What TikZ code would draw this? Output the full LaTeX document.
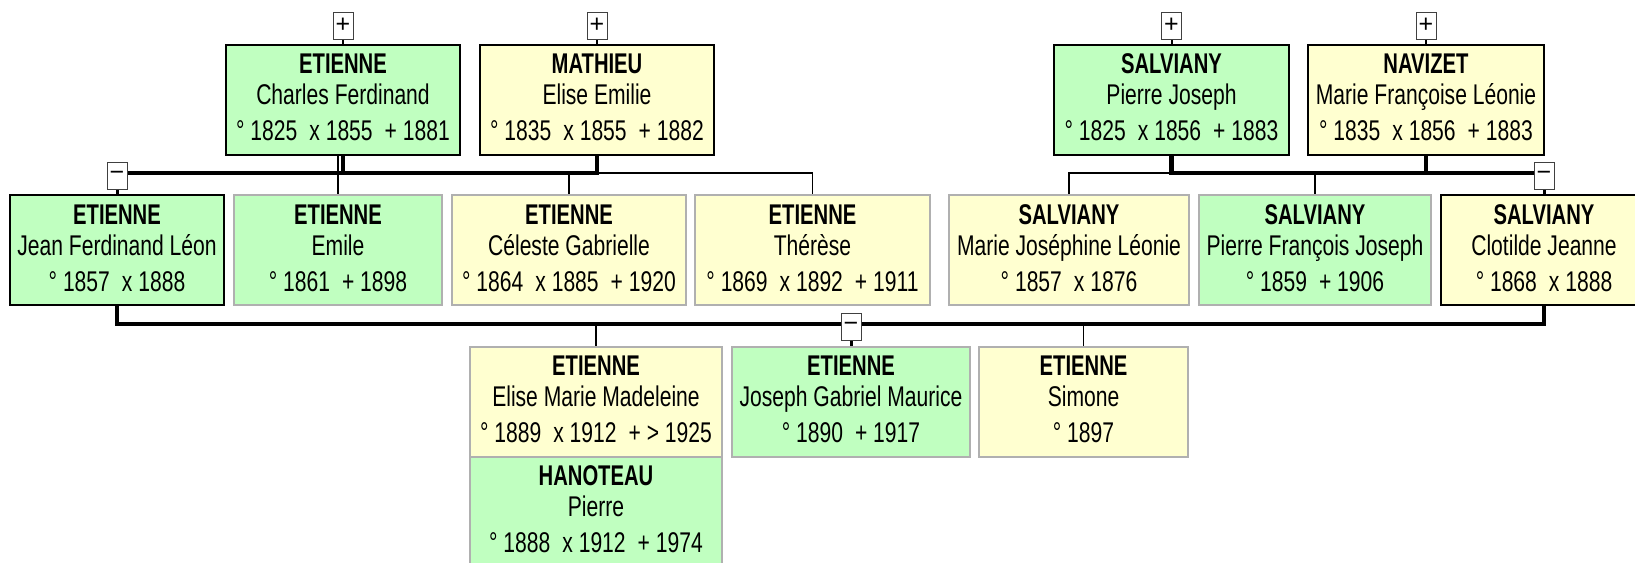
\documentclass[tikz,border=0pt]{standalone}
\usepackage{fontspec}
\setmainfont{Liberation Sans}[FakeStretch=0.74]
\newfontfamily\snfont{Liberation Sans}[FakeStretch=0.71]
\newfontfamily\pmfont{Liberation Sans}
\definecolor{pgreen}{RGB}{192,255,192}
\definecolor{pyellow}{RGB}{255,255,208}
\definecolor{pgray}{RGB}{176,176,176}
\newcommand{\gp}{\hspace{12pt}}
\newcommand{\person}[3]{\rule{0pt}{29pt}{\snfont\bfseries #1}\\#2\\[5pt]#3\rule[-14pt]{0pt}{14pt}}
\pgfdeclarelayer{bg}
\pgfsetlayers{bg,main}
\tikzset{
  person/.style={draw, line width=2pt, inner xsep=0pt, inner ysep=0pt, align=center,
    font=\fontsize{28.5}{31}\selectfont},
  gbox/.style={person, fill=pgreen},
  ybox/.style={person, fill=pyellow},
  grayb/.style={draw=pgray},
  blackb/.style={draw=black},
  pm/.style={draw=black!75, line width=1pt, fill=white, minimum width=20pt,
    minimum height=27pt, inner sep=0pt, font=\pmfont\fontsize{25}{25}\selectfont},
  thickln/.style={line width=4.5pt},
  thinln/.style={line width=1.6pt},
  stub/.style={line width=2pt}
}
\begin{document}
\begin{tikzpicture}[x=1pt,y=-1pt]
\useasboundingbox (0,0) rectangle (1635,562);
\clip (0,0) rectangle (1635,562);
% generation 1
\node[gbox, blackb, minimum width=234pt] (charles) at (343,99.5)
  {\person{ETIENNE}{Charles Ferdinand}{° 1825\gp x 1855\gp + 1881}};
\node[ybox, blackb, minimum width=234pt] (mathieu) at (597,99.5)
  {\person{MATHIEU}{Elise Emilie}{° 1835\gp x 1855\gp + 1882}};
\node[gbox, blackb, minimum width=235pt] (salv) at (1171.5,99.5)
  {\person{SALVIANY}{Pierre Joseph}{° 1825\gp x 1856\gp + 1883}};
\node[ybox, blackb, minimum width=236pt] (navizet) at (1426,99.5)
  {\person{NAVIZET}{Marie Françoise Léonie}{° 1835\gp x 1856\gp + 1883}};
% generation 2
\node[gbox, blackb, minimum width=214pt] (jean) at (117,250)
  {\person{ETIENNE}{Jean Ferdinand Léon}{° 1857\gp x 1888}};
\node[gbox, grayb, minimum width=208pt] (emile) at (338,250)
  {\person{ETIENNE}{Emile}{° 1861\gp + 1898}};
\node[ybox, grayb, minimum width=234pt] (celeste) at (569,250)
  {\person{ETIENNE}{Céleste Gabrielle}{° 1864\gp x 1885\gp + 1920}};
\node[ybox, grayb, minimum width=235pt] (therese) at (812.5,250)
  {\person{ETIENNE}{Thérèse}{° 1869\gp x 1892\gp + 1911}};
\node[ybox, grayb, minimum width=240pt] (mariej) at (1069,250)
  {\person{SALVIANY}{Marie Joséphine Léonie}{° 1857\gp x 1876}};
\node[gbox, grayb, minimum width=232pt] (pierref) at (1315,250)
  {\person{SALVIANY}{Pierre François Joseph}{° 1859\gp + 1906}};
\node[ybox, blackb, minimum width=206pt] (clotilde) at (1544,250)
  {\person{SALVIANY}{Clotilde Jeanne}{° 1868\gp x 1888}};
% generation 3
\node[ybox, grayb, minimum width=252pt] (elise) at (596,401.5)
  {\person{ETIENNE}{Elise Marie Madeleine}{° 1889\gp x 1912\gp + > 1925}};
\node[gbox, grayb, minimum width=238pt] (joseph) at (851,401.5)
  {\person{ETIENNE}{Joseph Gabriel Maurice}{° 1890\gp + 1917}};
\node[ybox, grayb, minimum width=209pt] (simone) at (1083.5,401.5)
  {\person{ETIENNE}{Simone}{° 1897}};
\node[gbox, grayb, minimum width=252pt] (hanoteau) at (596,511.5)
  {\person{HANOTEAU}{Pierre}{° 1888\gp x 1912\gp + 1974}};
% expand / collapse buttons
\node[pm] (plusA) at (343,25.5) {+};
\node[pm] (plusB) at (597,25.5) {+};
\node[pm] (plusC) at (1171.5,25.5) {+};
\node[pm] (plusD) at (1426,25.5) {+};
\node[pm] (minusL) at (117,175.5) {\char"2212};
\node[pm] (minusR) at (1544,175.5) {\char"2212};
\node[pm] (minusM) at (851,326.5) {\char"2212};
\coordinate (yL) at (0,173);
\coordinate (yM) at (0,324);
\begin{pgfonlayer}{bg}
  \draw[stub] (plusA) -- (charles.north);
  \draw[stub] (plusB) -- (mathieu.north);
  \draw[stub] (plusC) -- (salv.north);
  \draw[stub] (plusD) -- (navizet.north);
  % left couple
  \draw[thickln] (charles.south) -- (charles.south |- yL);
  \draw[thickln] (minusL.east |- yL) -- (mathieu.south |- yL) -- (mathieu.south);
  \draw[thinln] (emile.north |- charles.south) -- (emile.north);
  \draw[thinln] (celeste.north |- yL) -- (celeste.north);
  \draw[thinln] (mathieu.south |- yL) -| (therese.north);
  \draw[stub, line width=3pt] (minusL) -- (jean.north);
  % right couple
  \draw[thickln] (salv.south) -- (salv.south |- yL) -- (minusR.west |- yL);
  \draw[thickln] (navizet.south) -- (navizet.south |- yL);
  \draw[thinln] (salv.south |- yL) -| (mariej.north);
  \draw[thinln] (pierref.north |- yL) -- (pierref.north);
  \draw[stub, line width=3pt] (minusR) -- (clotilde.north);
  % children of Jean and Clotilde
  \draw[thickln] (jean.south) -- (jean.south |- yM) -- (clotilde.south |- yM) -- (clotilde.south);
  \draw[thinln] (elise.north |- yM) -- (elise.north);
  \draw[thinln] (simone.north |- yM) -- (simone.north);
  \draw[stub, line width=3pt] (minusM) -- (joseph.north);
\end{pgfonlayer}
\end{tikzpicture}
\end{document}
